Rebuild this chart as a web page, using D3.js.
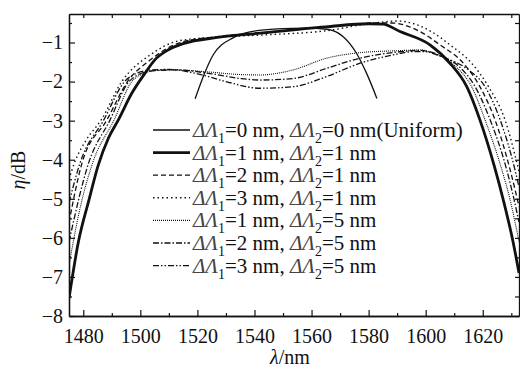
<html>
<head>
<style>
  body { margin: 0; background: white; }
  svg { display: block; }
  text { font-family: "Liberation Serif", "Times New Roman", serif; fill: #111; }
</style>
<script src="https://cdn.jsdelivr.net/npm/d3@7"></script>
</head>
<body>
<svg id="chart"></svg>
<script>

// curves: [wavelength nm, eta dB]
let uniformPts = [[1519.2,-2.44],[1522,-1.88],[1525.5,-1.32],[1532.5,-0.88],[1538.4,-0.73],[1548,-0.65],[1558,-0.63],[1565.3,-0.66],[1571.1,-0.85],[1575.8,-1.28],[1579.3,-1.79],[1582.9,-2.43]]
let d11Pts = [[1475,-7.55],[1478.3,-6.1],[1482.1,-5.0],[1485.2,-4.15],[1488.8,-3.45],[1492.3,-2.98],[1497,-2.3],[1501.6,-1.79],[1505,-1.45],[1510,-1.18],[1515,-1.03],[1527,-0.87],[1542,-0.76],[1565,-0.6],[1580,-0.52],[1585,-0.53],[1591,-0.72],[1601.5,-1.06],[1608.5,-1.53],[1614.4,-2.13],[1619,-2.98],[1624,-4.15],[1627.2,-5.03],[1630.7,-6.13],[1632.7,-6.9]]
let d21Pts = [[1475,-5.6],[1479.5,-4.1],[1488.3,-2.98],[1495.5,-2.0],[1503.4,-1.45],[1514,-1.0],[1527,-0.85],[1542,-0.75],[1565,-0.6],[1582,-0.5],[1588,-0.5],[1598,-0.72],[1605,-1.06],[1613.2,-1.53],[1619,-2.13],[1624.3,-2.98],[1629.6,-4.26],[1632.7,-5.2]]
let d31Pts = [[1475,-4.5],[1476.8,-4.1],[1481,-3.5],[1486.3,-2.98],[1493.5,-2.0],[1503.4,-1.32],[1514,-0.95],[1530,-0.85],[1545,-0.8],[1565,-0.7],[1580,-0.52],[1590,-0.45],[1601.5,-0.7],[1608.5,-1.06],[1616.1,-1.53],[1622,-2.13],[1627.8,-2.98],[1632.7,-4.3]]
let d15Pts = [[1475,-6.7],[1479,-5.2],[1483.2,-4.1],[1490.8,-2.98],[1497,-2.0],[1501,-1.8],[1505,-1.72],[1512,-1.7],[1525,-1.76],[1535,-1.82],[1542,-1.83],[1553.6,-1.7],[1565.3,-1.4],[1577,-1.26],[1590,-1.21],[1598,-1.19],[1603,-1.28],[1610.3,-1.6],[1616.1,-2.13],[1620.8,-2.98],[1626.7,-4.26],[1629.6,-5.03],[1632.7,-6.1]]
let d25Pts = [[1475,-6.1],[1481.8,-4.1],[1489.4,-2.98],[1495.5,-2.05],[1500,-1.8],[1505,-1.72],[1512,-1.7],[1525,-1.8],[1535,-1.92],[1542,-1.96],[1553.6,-1.92],[1565.3,-1.66],[1577,-1.4],[1592,-1.23],[1598,-1.2],[1604,-1.32],[1611.5,-1.6],[1617.3,-2.13],[1622.6,-2.98],[1628.4,-4.26],[1631,-5.03],[1632.7,-5.6]]
let d35Pts = [[1475,-5.1],[1478.8,-4.1],[1487.2,-2.98],[1494.5,-2.0],[1499,-1.78],[1504,-1.7],[1510,-1.69],[1520,-1.8],[1530,-2.0],[1542,-2.17],[1553.6,-2.13],[1565.3,-1.87],[1577,-1.53],[1588.4,-1.32],[1596,-1.23],[1601,-1.24],[1607,-1.4],[1615,-1.7],[1620.8,-2.13],[1626.1,-2.98],[1631.3,-4.26],[1632.7,-4.7]]

// legend: [dL1, dL2, suffix]
let legendRows = [["0","0","(Uniform)"],["1","1",""],["2","1",""],["3","1",""],["1","5",""],["2","5",""],["3","5",""]]

let xMajor = [1480,1500,1520,1540,1560,1580,1600,1620]
let xMinor = [1490,1510,1530,1550,1570,1590,1610,1630]
let yMajor = [-8,-7,-6,-5,-4,-3,-2,-1]
let yMinor = [-7.5,-6.5,-5.5,-4.5,-3.5,-2.5,-1.5,-0.5]

let series = [
  {pts: uniformPts, w: 1.3, dash: null},
  {pts: d11Pts, w: 2.8, dash: null},
  {pts: d21Pts, w: 1.3, dash: "5,3"},
  {pts: d31Pts, w: 1.4, dash: "1.5,3"},
  {pts: d15Pts, w: 1.1, dash: "1,1"},
  {pts: d25Pts, w: 1.3, dash: "6,2,1.5,2"},
  {pts: d35Pts, w: 1.3, dash: "6,2,1.5,2,1.5,2"}
]

let width = 520, height = 367
let mLeft = 69, mRight = 519, mTop = 14, mBottom = 316

let svg = d3.select("#chart").attr("width", width).attr("height", height)

let x = d3.scaleLinear().domain([1475, 1632.7]).range([mLeft, mRight])
let y = d3.scaleLinear().domain([-8, -0.27]).range([mBottom, mTop])

svg.append("clipPath").attr("id", "clip")
  .append("rect").attr("x", mLeft).attr("y", mTop)
  .attr("width", mRight - mLeft).attr("height", mBottom - mTop)

let line = d3.line()
  .x(d => x(d[0]))
  .y(d => y(d[1]))
  .curve(d3.curveMonotoneX)

svg.append("g").attr("clip-path", "url(#clip)")
  .selectAll("path").data(series)
  .enter().append("path")
  .attr("d", d => line(d.pts))
  .attr("fill", "none")
  .attr("stroke", "#111")
  .attr("stroke-width", d => d.w)
  .attr("stroke-dasharray", d => d.dash)

// axes, ticks inward on all four sides
function axisStyle(g) {
  g.select(".domain").attr("stroke", "#111").attr("stroke-width", 1.3)
  g.selectAll(".tick line").attr("stroke", "#111").attr("stroke-width", 1.2)
  g.selectAll("text").attr("font-size", 20).attr("font-family", "Liberation Serif")
}

svg.append("g").attr("transform", `translate(0,${mBottom})`)
  .call(d3.axisBottom(x).tickValues(xMajor).tickSize(-6).tickPadding(13)
    .tickFormat(d3.format("d")).tickSizeOuter(0))
  .call(axisStyle)
svg.append("g").attr("transform", `translate(0,${mBottom})`)
  .call(d3.axisBottom(x).tickValues(xMinor).tickSize(-3).tickFormat("").tickSizeOuter(0))
  .call(axisStyle)
svg.append("g").attr("transform", `translate(0,${mTop})`)
  .call(d3.axisTop(x).tickValues(xMajor.concat(xMinor)).tickSize(-4).tickFormat("").tickSizeOuter(0))
  .call(axisStyle)

svg.append("g").attr("transform", `translate(${mLeft},0)`)
  .call(d3.axisLeft(y).tickValues(yMajor).tickSize(-6).tickPadding(6).tickSizeOuter(0))
  .call(axisStyle)
svg.append("g").attr("transform", `translate(${mLeft},0)`)
  .call(d3.axisLeft(y).tickValues(yMinor).tickSize(-3).tickFormat("").tickSizeOuter(0))
  .call(axisStyle)
svg.append("g").attr("transform", `translate(${mRight},0)`)
  .call(d3.axisRight(y).tickValues(yMajor.concat(yMinor)).tickSize(-4).tickFormat("").tickSizeOuter(0))
  .call(axisStyle)

// axis titles
let xt = svg.append("text").attr("x", 290).attr("y", 364)
  .attr("text-anchor", "middle").attr("font-size", 20)
xt.append("tspan").attr("font-style", "italic").text("λ")
xt.append("tspan").text("/nm")

let yt = svg.append("text").attr("transform", "translate(25,170) rotate(-90)")
  .attr("text-anchor", "middle").attr("font-size", 20)
yt.append("tspan").attr("font-style", "italic").text("η")
yt.append("tspan").text("/dB")

// legend
let lg = svg.append("g")
let rowY = i => 130 + i * 22.6

lg.selectAll("path").data(series)
  .enter().append("path")
  .attr("d", (d, i) => `M153,${rowY(i)}H190`)
  .attr("fill", "none")
  .attr("stroke", "#111")
  .attr("stroke-width", d => d.w)
  .attr("stroke-dasharray", d => d.dash)

legendRows.forEach((r, i) => {
  let t = lg.append("text").attr("x", 193).attr("y", rowY(i) + 7).attr("font-size", 21)
  t.append("tspan").attr("font-style", "italic").attr("fill", "#444").text("ΔΛ")
  t.append("tspan").attr("font-size", 14).attr("dy", 6).text("1")
  t.append("tspan").attr("dy", -6).text("=" + r[0] + " nm, ")
  t.append("tspan").attr("font-style", "italic").attr("fill", "#444").text("ΔΛ")
  t.append("tspan").attr("font-size", 14).attr("dy", 6).text("2")
  t.append("tspan").attr("dy", -6).text("=" + r[1] + " nm" + r[2])
})

</script>
</body>
</html>
